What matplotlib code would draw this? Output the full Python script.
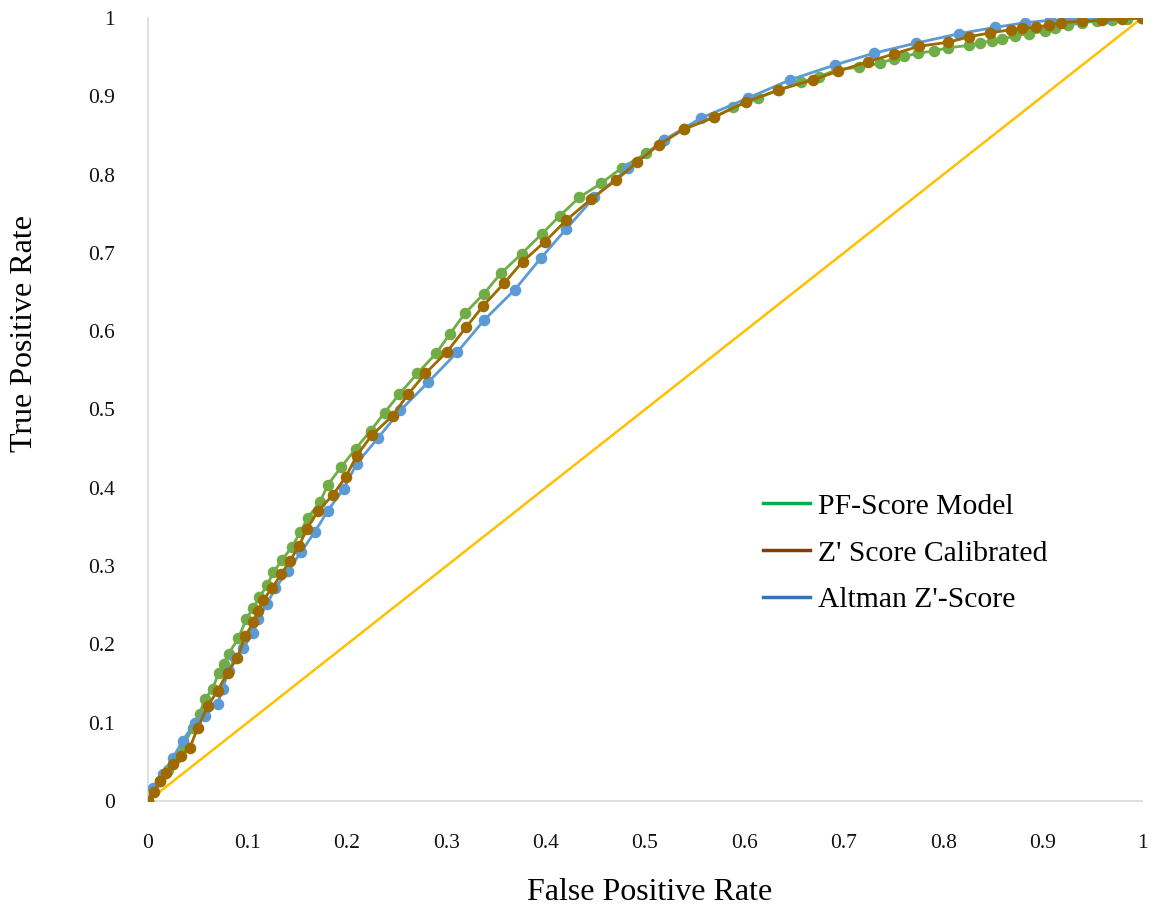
import matplotlib
matplotlib.use('Agg')
import matplotlib.pyplot as plt
from matplotlib.lines import Line2D

# PF-Score Model (green)
pf_fpr = [0.0, 0.005, 0.012, 0.02, 0.028, 0.036, 0.045, 0.052, 0.057, 0.065, 0.071, 0.076, 0.081,
          0.091, 0.099, 0.106, 0.112, 0.120, 0.126, 0.135, 0.145, 0.153, 0.161, 0.173, 0.181,
          0.194, 0.209, 0.224, 0.238, 0.253, 0.271, 0.290, 0.304, 0.319, 0.338, 0.355, 0.376,
          0.396, 0.414, 0.434, 0.456, 0.477, 0.501, 0.519, 0.539, 0.569, 0.589, 0.614, 0.635,
          0.657, 0.675, 0.693, 0.715, 0.736, 0.750, 0.761, 0.775, 0.791, 0.805, 0.826, 0.837,
          0.849, 0.859, 0.872, 0.886, 0.902, 0.912, 0.926, 0.940, 0.955, 0.970, 0.985, 1.0]
pf_tpr = [0.0, 0.012, 0.026, 0.040, 0.055, 0.072, 0.093, 0.111, 0.130, 0.143, 0.164, 0.175, 0.188,
          0.208, 0.233, 0.247, 0.260, 0.276, 0.292, 0.308, 0.325, 0.343, 0.362, 0.382, 0.404,
          0.426, 0.450, 0.473, 0.496, 0.520, 0.546, 0.572, 0.597, 0.623, 0.648, 0.674, 0.699,
          0.724, 0.747, 0.771, 0.789, 0.809, 0.827, 0.844, 0.858, 0.873, 0.886, 0.898, 0.908,
          0.918, 0.925, 0.934, 0.937, 0.942, 0.948, 0.951, 0.955, 0.958, 0.962, 0.965, 0.968,
          0.971, 0.973, 0.977, 0.980, 0.983, 0.987, 0.991, 0.994, 0.996, 0.997, 0.999, 1.0]

# Z' Score Calibrated (brown)
zc_fpr = [0.0, 0.006, 0.012, 0.018, 0.025, 0.033, 0.042, 0.050, 0.060, 0.070, 0.080, 0.090, 0.098,
          0.106, 0.111, 0.116, 0.125, 0.134, 0.143, 0.152, 0.160, 0.171, 0.186, 0.199, 0.210,
          0.225, 0.246, 0.262, 0.279, 0.301, 0.320, 0.337, 0.358, 0.377, 0.399, 0.421, 0.446,
          0.471, 0.492, 0.514, 0.539, 0.569, 0.602, 0.634, 0.669, 0.694, 0.724, 0.750, 0.776,
          0.805, 0.826, 0.847, 0.868, 0.879, 0.893, 0.906, 0.919, 0.940, 0.960, 0.980, 1.0]
zc_tpr = [0.0, 0.012, 0.026, 0.036, 0.047, 0.057, 0.068, 0.093, 0.121, 0.141, 0.164, 0.183, 0.211,
          0.228, 0.243, 0.257, 0.272, 0.290, 0.307, 0.326, 0.348, 0.370, 0.391, 0.414, 0.441,
          0.467, 0.492, 0.520, 0.546, 0.574, 0.605, 0.632, 0.661, 0.689, 0.714, 0.742, 0.769,
          0.793, 0.816, 0.838, 0.858, 0.873, 0.893, 0.908, 0.921, 0.932, 0.944, 0.954, 0.964,
          0.969, 0.976, 0.981, 0.985, 0.987, 0.988, 0.991, 0.994, 0.996, 0.997, 0.999, 1.0]

# Altman Z'-Score (blue)
az_fpr = [0.0, 0.005, 0.015, 0.025, 0.035, 0.047, 0.057, 0.070, 0.075, 0.081, 0.088, 0.096, 0.106,
          0.111, 0.120, 0.128, 0.141, 0.154, 0.168, 0.181, 0.197, 0.210, 0.231, 0.254, 0.282,
          0.311, 0.338, 0.369, 0.395, 0.421, 0.449, 0.483, 0.519, 0.556, 0.604, 0.646, 0.691,
          0.730, 0.773, 0.816, 0.852, 0.882, 0.907, 0.934, 0.965, 1.0]
az_tpr = [0.0, 0.017, 0.035, 0.055, 0.077, 0.100, 0.109, 0.124, 0.143, 0.166, 0.183, 0.196, 0.215,
          0.233, 0.252, 0.272, 0.294, 0.318, 0.344, 0.371, 0.399, 0.431, 0.463, 0.499, 0.535,
          0.573, 0.614, 0.653, 0.693, 0.731, 0.771, 0.808, 0.844, 0.872, 0.898, 0.921, 0.940,
          0.955, 0.968, 0.980, 0.988, 0.994, 0.997, 0.999, 1.0, 1.0]

ref_x = [0, 1]
ref_y = [0, 1]

ticks = [0, 0.1, 0.2, 0.3, 0.4, 0.5, 0.6, 0.7, 0.8, 0.9, 1]
tick_labels = ['0', '0.1', '0.2', '0.3', '0.4', '0.5', '0.6', '0.7', '0.8', '0.9', '1']

serif = ['Liberation Serif', 'DejaVu Serif']

fig = plt.figure(figsize=(11.54, 9.11), dpi=100)
ax = fig.add_axes([148/1154, 1 - 801/911, (1142 - 148)/1154, (801 - 18)/911])

ax.plot(ref_x, ref_y, color='#FFC000', lw=1.8, zorder=1)
ax.plot(pf_fpr, pf_tpr, color='#70AD47', lw=2, marker='o', ms=7.3, zorder=2)
ax.plot(az_fpr, az_tpr, color='#5B9BD5', lw=2, marker='o', ms=7.3, zorder=3)
ax.plot(zc_fpr, zc_tpr, color='#9E6A00', lw=2, marker='o', ms=7.3, zorder=4)

ax.set_xlim(0, 1)
ax.set_ylim(0, 1)
ax.set_xticks(ticks)
ax.set_xticklabels(tick_labels)
ax.set_yticks(ticks)
ax.set_yticklabels(tick_labels)
ax.tick_params(length=0, pad=24, labelsize=15.5, colors='#111111')
for lab in ax.get_xticklabels() + ax.get_yticklabels():
    lab.set_family(serif)
for side in ['top', 'right']:
    ax.spines[side].set_visible(False)
for side in ['left', 'bottom']:
    ax.spines[side].set_color('#D9D9D9')
    ax.spines[side].set_linewidth(1.2)

fig.text(650/1154, 1 - 893/911, 'False Positive Rate', family=serif, fontsize=23,
         ha='center', va='center')
fig.text(25/1154, 1 - 333/911, 'True Positive Rate', family=serif, fontsize=23,
         ha='center', va='center', rotation=90)

handles = [Line2D([], [], color='#00B050', lw=2.5),
           Line2D([], [], color='#843C0C', lw=2.5),
           Line2D([], [], color='#2E75B6', lw=2.5)]
labels = ['PF-Score Model', "Z' Score Calibrated", "Altman Z'-Score"]
fig.legend(handles, labels, loc='upper left', bbox_to_anchor=(763/1154, 1 - 493/911),
           frameon=False, borderpad=0, borderaxespad=0, handlelength=1.6,
           handletextpad=0.25, labelspacing=0.68, prop={'family': serif, 'size': 21.3})

fig.savefig('out.png', dpi=100)
